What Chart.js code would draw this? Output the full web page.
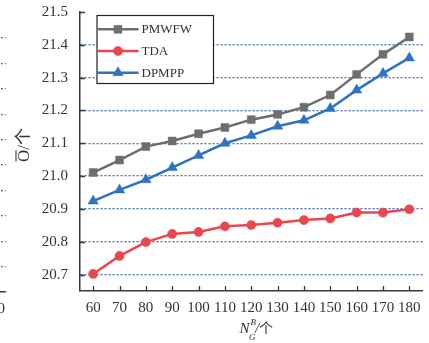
<!DOCTYPE html>
<html><head><meta charset="utf-8">
<script src="https://cdn.jsdelivr.net/npm/chart.js@4.4.0/dist/chart.umd.min.js"></script>
<style>
html,body{margin:0;padding:0;background:#fff;overflow:hidden}
#wrap{position:relative;width:429px;height:343px;overflow:hidden;background:#fff}
#side{position:absolute;left:-194px;top:0}
#main{position:absolute;left:0;top:0}
</style></head>
<body><div id="wrap"><canvas id="side" width="207" height="343"></canvas><canvas id="main" width="429" height="343"></canvas></div>
<script>
// ---- data ----
const categories = ['60','70','80','90','100','110','120','130','140','150','160','170','180'];
const seriesNames = ['PMWFW','TDA','DPMPP'];
const pmwfw = [21.011,21.049,21.090,21.107,21.129,21.148,21.172,21.188,21.210,21.247,21.310,21.371,21.424];
const tda   = [20.702,20.757,20.799,20.824,20.830,20.847,20.851,20.858,20.866,20.871,20.889,20.889,20.899];
const dpmpp = [20.924,20.958,20.989,21.026,21.063,21.100,21.124,21.152,21.170,21.206,21.262,21.313,21.360];
const yMin = 20.65, yMax = 21.5, yStep = 0.1;
// neighbouring (cropped) chart fragment on the far left
const sideLabels = ['160','170','180'];
const sideYMin = 0, sideYMax = 10, sideYStep = 1;

const SERIF = '"Liberation Serif", "Times New Roman", "Noto Sans CJK SC", serif';
const AXIS = '#3a3a3a';
const GRID = '#3f6fc0';
const TXT = '#333333';
const NONE = 'rgba(0,0,0,0)';
const colors = ['#6e6e6e', '#e8474f', '#2f74c0'];
const styles = ['rect', 'circle', 'triangle'];
const radii = [5.6, 4.6, 6];

const inwardTicks = {
  id: 'inwardTicks',
  afterDraw(chart) {
    const {ctx, chartArea} = chart;
    const xs = chart.scales.x, ys = chart.scales.y;
    ctx.save();
    ctx.strokeStyle = AXIS; ctx.lineWidth = 1.3;
    ctx.beginPath();
    ys.ticks.forEach(t => { const py = Math.round(ys.getPixelForValue(t.value)) + 0.5; ctx.moveTo(chartArea.left, py); ctx.lineTo(chartArea.left + 5, py); });
    xs.ticks.forEach((t, i) => { const px = Math.round(xs.getPixelForTick(i)) + 0.5; ctx.moveTo(px, chartArea.bottom); ctx.lineTo(px, chartArea.bottom - 5); });
    ctx.stroke();
    ctx.restore();
  }
};

const boxLegend = {
  id: 'boxLegend',
  afterDraw(chart) {
    const ctx = chart.ctx;
    const L = 97, T = 15.5, R = 213.5, B = 83.5;
    ctx.save();
    ctx.fillStyle = '#fff';
    ctx.fillRect(L, T, R - L, B - T);
    ctx.strokeStyle = '#222'; ctx.lineWidth = 1.2;
    ctx.strokeRect(L, T, R - L, B - T);
    const rows = [29.3, 51, 72.7];
    chart.data.datasets.forEach((ds, i) => {
      const y = rows[i];
      ctx.strokeStyle = ds.borderColor; ctx.lineWidth = 2.5;
      ctx.beginPath(); ctx.moveTo(L, y); ctx.lineTo(138.5, y); ctx.stroke();
      ctx.fillStyle = ds.pointBackgroundColor;
      ctx.strokeStyle = ds.pointBackgroundColor; ctx.lineWidth = 0.5;
      Chart.helpers.drawPoint(ctx, {pointStyle: ds.pointStyle, radius: ds.pointRadius, rotation: 0, borderWidth: 0.5}, 118, y);
      ctx.fillStyle = TXT;
      ctx.font = '13px ' + SERIF;
      ctx.textBaseline = 'middle'; ctx.textAlign = 'left';
      ctx.fillText(ds.label, 141.5, y + 0.5);
    });
    ctx.restore();
  }
};

const axisTitles = {
  id: 'axisTitles',
  afterDraw(chart) {
    const ctx = chart.ctx;
    ctx.save();
    ctx.fillStyle = TXT; ctx.strokeStyle = TXT;
    // y title: O with overline / 个, rotated
    ctx.translate(29, 145);
    ctx.rotate(-Math.PI / 2);
    ctx.font = '17px ' + SERIF;
    ctx.textBaseline = 'alphabetic'; ctx.textAlign = 'left';
    const wO = ctx.measureText('O').width;
    const wRest = ctx.measureText('/个').width;
    const x0 = -(wO + wRest) / 2;
    ctx.fillText('O', x0, 0);
    ctx.fillText('/个', x0 + wO, 0);
    ctx.lineWidth = 1.1;
    ctx.beginPath(); ctx.moveTo(x0 + 0.5, -13); ctx.lineTo(x0 + wO - 0.5, -13); ctx.stroke();
    ctx.setTransform(1, 0, 0, 1, 0, 0);
    // x title: N_G^B / 个
    ctx.textBaseline = 'alphabetic'; ctx.textAlign = 'left';
    ctx.font = 'italic 15px ' + SERIF;
    ctx.fillText('N', 239.5, 332.5);
    ctx.font = 'italic 9px ' + SERIF;
    ctx.fillText('B', 250.5, 325);
    ctx.fillText('G', 249, 339.5);
    ctx.font = 'italic 15px ' + SERIF;
    ctx.fillText('/', 255, 332.5);
    ctx.font = '14px "Noto Sans CJK SC", sans-serif';
    ctx.fillText('个', 259, 333);
    ctx.restore();
  }
};

const seriesData = [pmwfw, tda, dpmpp];
new Chart(document.getElementById('main'), {
  type: 'line',
  data: {
    labels: categories,
    datasets: seriesNames.map((name, i) => ({
      label: name,
      data: seriesData[i],
      borderColor: colors[i],
      backgroundColor: colors[i],
      pointBackgroundColor: colors[i],
      pointBorderColor: colors[i],
      pointBorderWidth: 0.5,
      pointStyle: styles[i],
      pointRadius: radii[i],
      borderWidth: 2.5,
      tension: 0,
      fill: false
    }))
  },
  options: {
    responsive: false,
    devicePixelRatio: 1,
    animation: false,
    layout: {padding: {top: 12, right: 2, left: 0, bottom: 0}},
    plugins: {legend: {display: false}, tooltip: {enabled: false}},
    scales: {
      x: {
        type: 'category',
        offset: true,
        grid: {display: false, drawTicks: true, tickLength: 8, tickColor: NONE},
        border: {display: true, color: AXIS, width: 1.5},
        ticks: {color: TXT, font: {family: SERIF, size: 15}, padding: 0, maxRotation: 0, autoSkip: false},
        afterFit(s) { s.height = 52; }
      },
      y: {
        type: 'linear',
        min: yMin, max: yMax,
        grid: {
          drawTicks: true, tickLength: 12, tickColor: NONE,
          lineWidth: 1.3,
          color: c => (c.tick && c.tick.value > yMin + 0.01 && c.tick.value < yMax - 0.01) ? GRID : NONE
        },
        border: {display: true, color: AXIS, width: 1.5, dash: [2, 2]},
        ticks: {
          stepSize: yStep, includeBounds: false,
          color: TXT, font: {family: SERIF, size: 15}, padding: 0,
          callback: v => Number(v).toFixed(1)
        },
        afterFit(s) { s.width = 80; }
      }
    }
  },
  plugins: [inwardTicks, boxLegend, axisTitles]
});

new Chart(document.getElementById('side'), {
  type: 'line',
  data: {labels: sideLabels, datasets: []},
  options: {
    responsive: false,
    devicePixelRatio: 1,
    animation: false,
    layout: {padding: {top: 38, right: 0, left: 127, bottom: 0}},
    plugins: {legend: {display: false}, tooltip: {enabled: false}},
    scales: {
      x: {
        type: 'category', offset: true,
        grid: {display: false, drawTicks: false},
        border: {display: true, color: AXIS, width: 1.5},
        ticks: {color: TXT, font: {family: SERIF, size: 15}, padding: 8, maxRotation: 0, autoSkip: false},
        afterFit(s) { s.height = 51; }
      },
      y: {
        display: true,
        min: sideYMin, max: sideYMax,
        grid: {drawTicks: false, lineWidth: 1.3, color: c => (c.tick && c.tick.value > sideYMin) ? GRID : NONE},
        border: {display: false, dash: [2, 2]},
        ticks: {display: false, stepSize: sideYStep},
        afterFit(s) { s.width = 0; }
      }
    }
  }
});
</script>
</body></html>
